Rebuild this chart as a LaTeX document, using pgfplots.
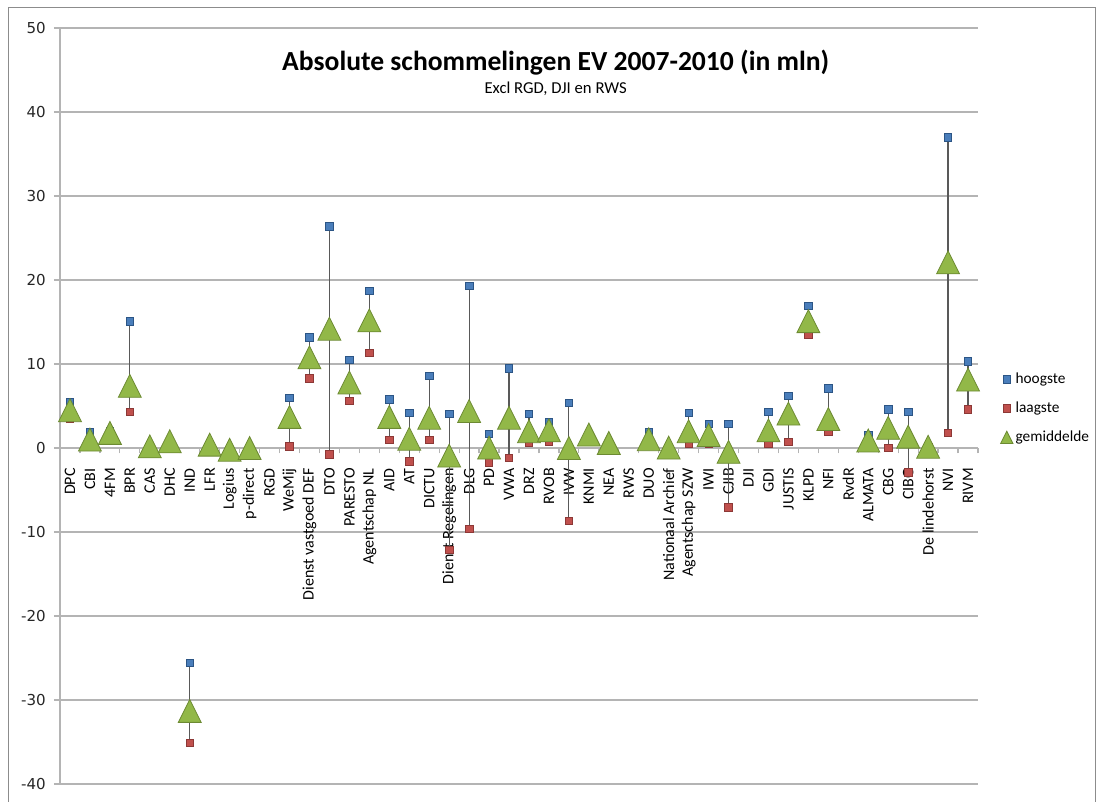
\documentclass[border=0pt]{standalone}
\usepackage{fontspec}
\setmainfont{Carlito}
\newfontfamily\dejavu{DejaVu Sans}
\usepackage{pgfplots}
\usepackage{pgfplotstable}
\pgfplotsset{compat=1.18}

\definecolor{hoog}{RGB}{74,126,187}
\definecolor{hoogrand}{RGB}{44,85,133}
\definecolor{laag}{RGB}{192,80,77}
\definecolor{laagrand}{RGB}{140,56,54}
\definecolor{gem}{RGB}{146,184,72}
\definecolor{gemrand}{RGB}{108,138,50}
\definecolor{raster}{RGB}{180,180,180}

% driehoek met het datapunt in het midden van de omhullende
\pgfdeclareplotmark{etri}{%
  \pgfpathmoveto{\pgfpoint{0pt}{\pgfplotmarksize}}%
  \pgfpathlineto{\pgfpoint{\pgfplotmarksize}{-\pgfplotmarksize}}%
  \pgfpathlineto{\pgfpoint{-\pgfplotmarksize}{-\pgfplotmarksize}}%
  \pgfpathclose
  \pgfusepathqfillstroke
}

\pgfplotsset{
  puntlegenda/.style={legend image code/.code={\draw[##1] plot coordinates {(0pt,0pt)};}},
  trilegenda/.style={legend image code/.code={\draw[##1, mark size=4.6pt] plot coordinates {(0pt,0pt)};}},
}

% x = positie, hi = hoogste, lo = laagste, gem = gemiddelde
\pgfplotstableread{
x  hi    lo     gem
1  5.5   3.5    4.5
2  1.9   0.3    1.0
3  2.0   1.6    1.8
4  15.1  4.3    7.4
5  0.2   0.2    0.2
6  0.8   0.8    0.8
7  -25.6 -35.1  -31.3
8  0.4   0.4    0.4
9  -0.2  -0.2   -0.2
10 0.0   0.0    0.0
11 nan   nan    nan
12 6.0   0.2    3.7
13 13.2  8.3    10.8
14 26.4  -0.75  14.2
15 10.5  5.6    7.8
16 18.7  11.3   15.2
17 5.8   0.95   3.7
18 4.2   -1.6   1.1
19 8.6   1.0    3.6
20 4.1   -12.1  -0.9
21 19.3  -9.6   4.4
22 1.7   -1.7   0.05
23 9.5   -1.15  3.6
24 4.1   0.6    2.0
25 3.1   0.75   2.1
26 5.4   -8.65  0.0
27 1.6   1.6    1.6
28 0.6   0.6    0.6
29 nan   nan    nan
30 1.9   0.5    1.05
31 0.05  0.05   0.05
32 4.2   0.55   2.0
33 2.9   0.5    1.55
34 2.85  -7.05  -0.45
35 nan   nan    nan
36 4.3   0.5    2.1
37 6.2   0.75   4.1
38 16.9  13.5   15.1
39 7.1   1.9    3.45
40 nan   nan    nan
41 1.5   0.5    0.9
42 4.6   0.0    2.4
43 4.3   -2.9   1.35
44 0.15  0.15   0.15
45 37.0  1.8    22.1
46 10.3  4.6    8.15
}\agentschappen

\begin{document}
\begin{tikzpicture}[x=1pt,y=1pt]
\useasboundingbox (0,0) rectangle (826.5,600.75);
\draw[black!45, line width=0.75pt] (6,-5) rectangle (821.25,594.75);
\begin{axis}[
    at={(45pt,12.75pt)}, anchor=south west,
    scale only axis, width=688.5pt, height=567pt,
    xmin=0.5, xmax=46.5, ymin=-40, ymax=50,
    axis x line*=middle, axis y line*=left,
    axis line style={draw=raster, line width=0.9pt},
    xtick={1,...,46},
    xticklabels={DPC, CBI, 4FM, BPR, CAS, DHC, IND, LFR, Logius, p-direct, RGD, WeMij,
        Dienst vastgoed DEF, DTO, PARESTO, Agentschap NL, AID, AT, DICTU, Dienst Regelingen,
        DLG, PD, VWA, DRZ, RVOB, IVW, KNMI, NEA, RWS, DUO, Nationaal Archief, Agentschap SZW,
        IWI, CJIB, DJI, GDI, JUSTIS, KLPD, NFI, RvdR, ALMATA, CBG, CIBG, De lindehorst, NVI, RIVM},
    minor xtick={0.5,1.5,...,46.5},
    every major x tick/.append style={draw=none},
    ytick={-40,-30,...,50},
    yticklabels={-40,-30,-20,-10,0,10,20,30,40,50},
    tick align=outside,
    major tick length=4.5pt, minor tick length=4pt,
    tick style={draw=raster, line width=0.9pt},
    ymajorgrids,
    major grid style={draw=raster, line width=0.9pt},
    xticklabel shift=10.5pt,
    yticklabel shift=6pt,
    xticklabel style={rotate=90, anchor=east, inner sep=0pt, font=\fontsize{12}{14}\selectfont},
    yticklabel style={anchor=east, inner sep=0pt, text=black!85, font=\dejavu\fontsize{11.3}{13}\selectfont},
    legend cell align=left,
    legend style={at={(1.02,0.497)}, anchor=west, draw=none, fill=none,
        font=\fontsize{11.5}{13}\selectfont, row sep=12.3pt,
        nodes={inner xsep=2pt, inner ysep=0pt}},
]
\addplot[only marks, mark=none, forget plot,
    error bars/.cd, y dir=minus, y explicit, error mark=none,
    error bar style={draw=black!65, line width=0.9pt}]
    table[x=x, y=hi, y error expr=\thisrow{hi}-\thisrow{lo}] {\agentschappen};

\addplot[only marks, mark=square*, mark size=2.8pt,
    mark options={fill=hoog, draw=hoogrand, line width=0.5pt}, puntlegenda]
    table[x=x, y=hi] {\agentschappen};
\addlegendentry{hoogste}

\addplot[only marks, mark=square*, mark size=2.8pt,
    mark options={fill=laag, draw=laagrand, line width=0.5pt}, puntlegenda]
    table[x=x, y=lo] {\agentschappen};
\addlegendentry{laagste}

\addplot[only marks, mark=etri, mark size=8.6pt,
    mark options={fill=gem, draw=gemrand, line width=0.6pt}, trilegenda]
    table[x=x, y=gem] {\agentschappen};
\addlegendentry{gemiddelde}

\node[anchor=base, font=\fontsize{20.7}{24}\selectfont\bfseries]
    at (rel axis cs:0.540,0.9435) {Absolute schommelingen EV 2007-2010 (in mln)};
\node[anchor=base, font=\fontsize{12.5}{14}\selectfont]
    at (rel axis cs:0.540,0.914) {Excl RGD, DJI en RWS};
\end{axis}
\end{tikzpicture}
\end{document}
